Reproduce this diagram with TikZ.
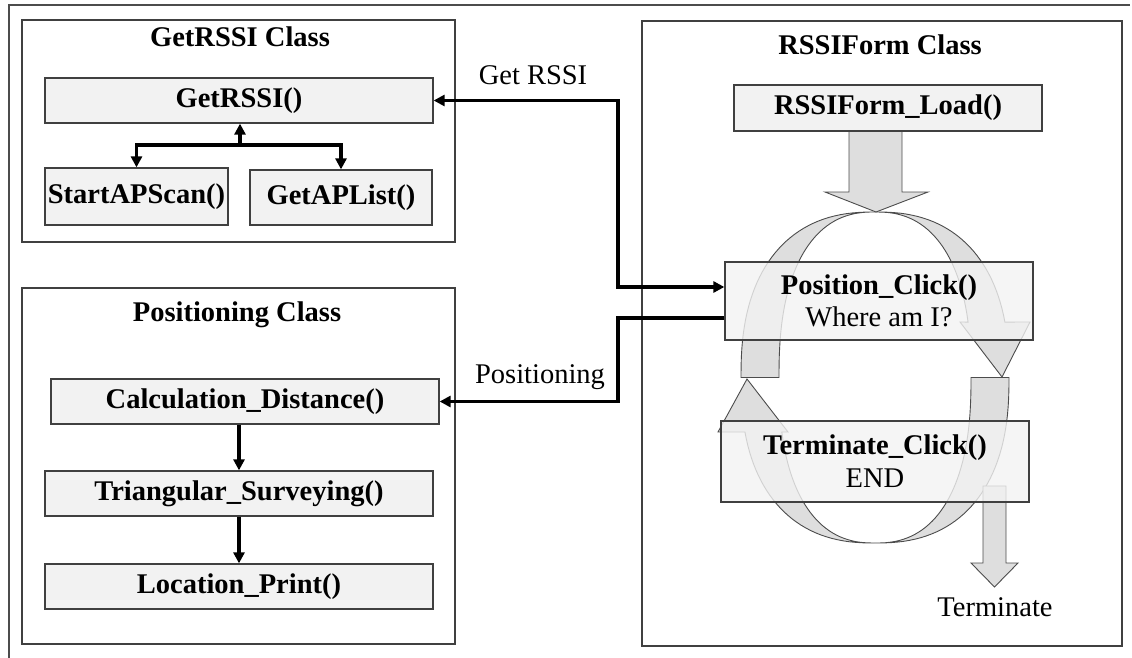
\documentclass[tikz,border=0pt]{standalone}
\usepackage{fontspec}
\setmainfont{Liberation Serif}
\usetikzlibrary{arrows.meta}
\newcommand\dfont{\fontsize{28.5}{33}\selectfont}
\begin{document}
\begin{tikzpicture}[x=1pt,y=-1pt,
  declare function={sx(\t)=sign(cos(\t))*(abs(cos(\t))+0.0001)^0.8333;
                    sy(\t)=sign(sin(\t))*(abs(sin(\t))+0.0001)^0.8333;},
  frame/.style={draw=black!70, line width=1.3pt},
  classbox/.style={draw=black!75, line width=1.3pt, inner sep=0pt},
  fnbox/.style={draw=black!75, fill=black!5, line width=1.3pt, inner sep=0pt,
                font=\dfont\bfseries, align=center},
  seebox/.style={fnbox, fill opacity=0.8, text opacity=1},
  title/.style={inner sep=0pt, font=\dfont\bfseries},
  lbl/.style={inner sep=0pt, font=\dfont},
  band/.style={fill=black!13, draw=black!70, line width=0.9pt, line join=miter},
  conn/.style={draw=black, line width=3.2pt},
  tip/.style={-{Triangle[length=11pt,width=11pt]}},
  tips/.style={{Triangle[length=11pt,width=11pt]}-{Triangle[length=11pt,width=11pt]}}
]
\useasboundingbox (0,0) rectangle (1132,658);
% outer frame
\draw[frame] (9,658) -- (9,5) -- (1130,5);

% class boxes
\node[classbox, minimum width=433pt, minimum height=222pt] (cg) at (238.5,131) {};
\node[classbox, minimum width=433pt, minimum height=356pt] (cp) at (238.5,466) {};
\node[classbox, minimum width=480pt, minimum height=625pt] (cr) at (882,333.5) {};
\node[title] (tg) at (240,37) {GetRSSI Class};
\node[title] (tp) at (237,315) {Positioning Class};
\node[title] (tr) at (880,45) {RSSIForm Class};

% circular arrows
\draw[band] plot[domain=15.6:180, samples=70, variable=\t] ({875+134*sx(\t)},{377.5-165.5*sy(\t)})
  -- plot[domain=180:15.6, samples=70, variable=\t] ({875+96*sx(\t)},{377.5-165.5*sy(\t)})
  -- (960,322) -- (1002,377) -- (1030,322) -- cycle;
\draw[band] plot[domain=195.3:360, samples=70, variable=\t] ({875+134*sx(\t)},{377.5-165.5*sy(\t)})
  -- plot[domain=360:195.3, samples=70, variable=\t] ({875+96*sx(\t)},{377.5-165.5*sy(\t)})
  -- (788,432) -- (747,379) -- (718,432) -- cycle;

% block arrows
\draw[band] (849,131) -- (849,192) -- (825,192) -- (876,212) -- (928,192) -- (902,192) -- (902,131) -- cycle;
\draw[band] (983,486) -- (983,563) -- (971,563) -- (994.5,587) -- (1018,563) -- (1006,563) -- (1006,486) -- cycle;

% function boxes
\node[fnbox, minimum width=388pt, minimum height=45pt] (g) at (239,100.5) {GetRSSI()};
\node[fnbox, minimum width=183pt, minimum height=57pt] (sa) at (136.5,196.5) {StartAPScan()};
\node[fnbox, minimum width=182pt, minimum height=55pt] (ga) at (341,197.5) {GetAPList()};
\node[fnbox, minimum width=388pt, minimum height=45pt] (cd) at (245,401.5) {Calculation\_Distance()};
\node[fnbox, minimum width=388pt, minimum height=45pt] (ts) at (239,493.5) {Triangular\_Surveying()};
\node[fnbox, minimum width=388pt, minimum height=45pt] (lp) at (239,586.5) {Location\_Print()};
\node[fnbox, minimum width=308pt, minimum height=46pt] (ld) at (888,108) {RSSIForm\_Load()};
\node[seebox, minimum width=308pt, minimum height=78pt] (pc) at (879,301)
  {Position\_Click()\\[-1pt]\mdseries Where am I?};
\node[seebox, minimum width=308pt, minimum height=81pt] (tc) at (875,461.5)
  {Terminate\_Click()\\[0pt]\mdseries END};

% labels
\node[lbl] (lgr) at (533,75) {Get RSSI};
\node[lbl] (lps) at (540,377) {Positioning};
\node[lbl] (ltm) at (995,607) {Terminate};

% connectors
\coordinate (m1) at (618,0);
\coordinate (pcA) at ([yshift=14pt]pc.west);
\coordinate (pcB) at ([yshift=-17pt]pc.west);
\draw[conn, tips] (g.east) -| (m1 |- pcA) -- (pcA);
\draw[conn, tip] (pcB) -- (m1 |- pcB) |- (cd.east);

\coordinate (j) at (240,145);
\draw[conn, tip] (j) -- (j |- g.south);
\draw[conn, tip] (j) -| (sa.north);
\draw[conn, tip] (j) -| (ga.north);
\draw[conn, tip] (ts.north |- cd.south) -- (ts.north);
\draw[conn, tip] (ts.south) -- (lp.north);
\end{tikzpicture}
\end{document}
